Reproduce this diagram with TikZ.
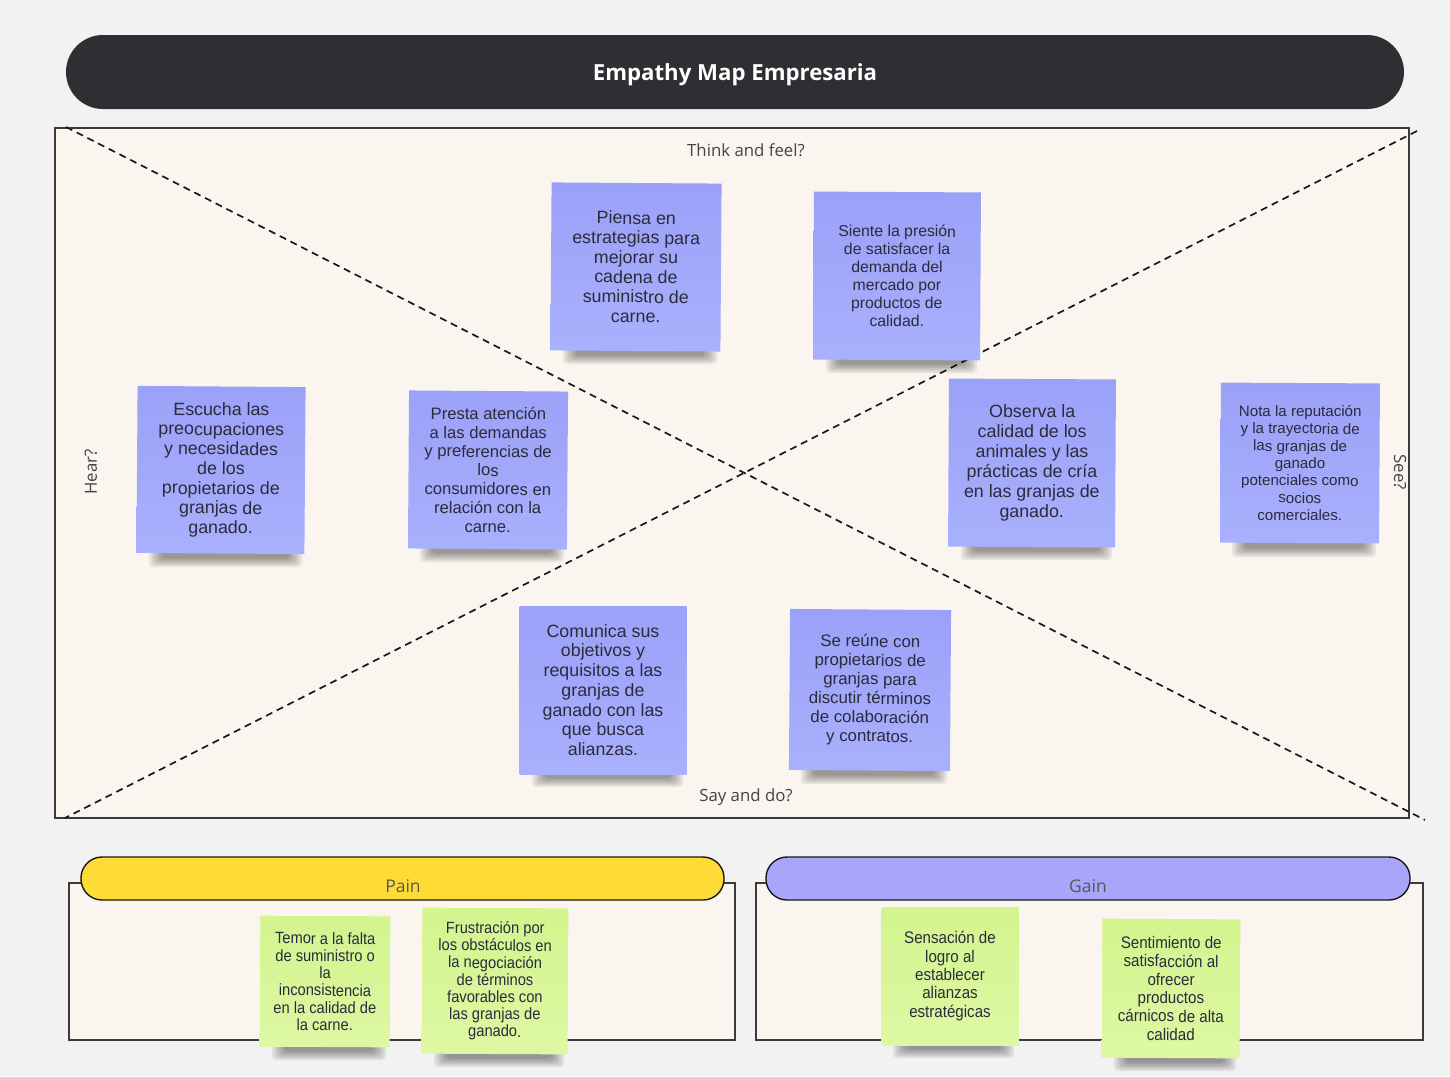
\documentclass[tikz,border=0pt]{standalone}
\usepackage{fontspec}
\setmainfont{Liberation Sans}
\newfontfamily\ars{Liberation Sans}
\newfontfamily\os{Open Sans}
\newfontfamily\narrow{Liberation Sans}[FakeStretch=0.9]
\usetikzlibrary{positioning}
\definecolor{bg}{HTML}{F2F2F2}
\definecolor{cream}{HTML}{FAF6EF}
\definecolor{titlebar}{HTML}{2D2F33}
\definecolor{frame}{HTML}{3A3A3A}
\definecolor{ptop}{HTML}{9AA1F8}
\definecolor{pbot}{HTML}{A9B0FD}
\definecolor{gtop}{HTML}{D3F48E}
\definecolor{gbot}{HTML}{DDF8A3}
\definecolor{notetext}{HTML}{2B2B3B}
\definecolor{labeltext}{HTML}{444444}
\definecolor{painy}{HTML}{FFDC35}
\definecolor{gainv}{HTML}{A9A5FB}
% shadow below a note: left x, right x, bottom y
\newcommand{\noteshadow}[3]{%
  \foreach \k in {0,...,5}{%
    \fill[black,opacity=.075,rounded corners=4pt] ({#1+12+2.5*\k},{#3-4}) rectangle ({#2-4-2.5*\k},{#3+13-1.7*\k});
  }%
}
\tikzset{
  pnote/.style={top color=ptop, bottom color=pbot, align=center, text=notetext, inner sep=4pt},
  gnote/.style={top color=gtop, bottom color=gbot, align=center, text=notetext, inner sep=3pt},
  axislabel/.style={text=labeltext, font=\os\fontsize{16.8}{19}\selectfont},
  diag/.style={draw=black!90, line width=1.7pt, dash pattern=on 7pt off 5pt},
  section/.style={fill=cream, draw=frame, line width=1.4pt},
  pill/.style={draw=black!90, line width=1.4pt, rounded corners=21pt},
}
\begin{document}
\begin{tikzpicture}[x=1pt,y=-1pt]
\useasboundingbox (0,0) rectangle (1450,1076);
\fill[bg] (0,0) rectangle (1450,1076);

% title bar
\fill[titlebar, rounded corners=37pt] (66,35) rectangle (1404,109);
\node[text=white, font=\os\bfseries\fontsize{22.2}{25}\selectfont] (title) at (735,75) {Empathy Map Empresaria};

% main box
\node[section, minimum width=1354, minimum height=690, inner sep=0pt] (main) at (732,473) {};
\coordinate (dTL) at (66,127);
\coordinate (dBR) at (1425,820);
\coordinate (dTR) at (1417,131);
\coordinate (dBL) at (65,818);
\draw[diag] (dTL) -- (dBR);
\draw[diag] (dTR) -- (dBL);

\node[axislabel] (think) at (746,150) {Think and feel?};
\node[axislabel] (say) at (746,797) {Say and do?};
\node[axislabel, rotate=90] (hear) at (91,472) {Hear?};
\node[axislabel, rotate=-90] (see) at (1400,472) {See?};

% shadows of purple notes
\noteshadow{551}{721}{351}
\noteshadow{814}{981}{360}
\noteshadow{137}{306}{554}
\noteshadow{408}{568}{549}
\noteshadow{949}{1116}{547}
\noteshadow{1220}{1380}{544}
\noteshadow{520}{687}{774}
\noteshadow{789}{951}{771}

% purple notes
\node[pnote, minimum width=170, minimum height=168, rotate=-0.4,
  font=\ars\fontsize{17.8}{19.7}\selectfont] (n1) at (636,267)
  {Piensa en\\estrategias para\\mejorar su\\cadena de\\suministro de\\carne.};
\node[pnote, minimum width=167, minimum height=168, rotate=-0.3,
  font=\ars\fontsize{15.8}{18}\selectfont] (n2) at (897,276)
  {Siente la presión\\de satisfacer la\\demanda del\\mercado por\\productos de\\calidad.};
\node[pnote, minimum width=168, minimum height=167, rotate=-0.4,
  font=\ars\fontsize{17.8}{19.7}\selectfont] (n3) at (221,470)
  {Escucha las\\preocupaciones\\y necesidades\\de los\\propietarios de\\granjas de\\ganado.};
\node[pnote, minimum width=159, minimum height=158, rotate=-0.4,
  font=\ars\fontsize{16.6}{18.8}\selectfont] (n4) at (488,470)
  {Presta atención\\a las demandas\\y preferencias de\\los\\consumidores en\\relación con la\\carne.};
\node[pnote, minimum width=167, minimum height=168, rotate=-0.3,
  font=\ars\fontsize{17.8}{20}\selectfont] (n5) at (1032,463)
  {Observa la\\calidad de los\\animales y las\\prácticas de cría\\en las granjas de\\ganado.};
\node[pnote, minimum width=159, minimum height=160, rotate=-0.3,
  font=\ars\fontsize{15.1}{17.3}\selectfont] (n6) at (1300,463)
  {Nota la reputación\\y la trayectoria de\\las granjas de\\ganado\\potenciales como\\socios\\comerciales.};
\node[pnote, minimum width=167, minimum height=168,
  font=\ars\fontsize{17.8}{19.7}\selectfont] (n7) at (603,690)
  {Comunica sus\\objetivos y\\requisitos a las\\granjas de\\ganado con las\\que busca\\alianzas.};
\node[pnote, minimum width=161, minimum height=161, rotate=-0.4,
  font=\ars\fontsize{16.8}{19}\selectfont] (n8) at (870,690)
  {Se reúne con\\propietarios de\\granjas para\\discutir términos\\de colaboración\\y contratos.};

% bottom sections
\node[section, minimum width=666, minimum height=157, inner sep=0pt] (painbox) at (402,961.5) {};
\node[section, minimum width=667, minimum height=157, inner sep=0pt] (gainbox) at (1089.5,961.5) {};
\filldraw[pill, fill=painy] (81,857) rectangle (724,900);
\filldraw[pill, fill=gainv] (766,857) rectangle (1410,900);
\node[text=labeltext!90, font=\os\fontsize{17.5}{20}\selectfont] (pain) at (403,886) {Pain};
\node[text=labeltext!90, font=\os\fontsize{17.5}{20}\selectfont] (gain) at (1088,886) {Gain};

% shadows of green notes
\noteshadow{260}{390}{1047}
\noteshadow{422}{568}{1054}
\noteshadow{881}{1018}{1045}
\noteshadow{1102}{1240}{1058}

% green notes
\node[gnote, minimum width=130, minimum height=131, rotate=-0.3,
  font=\narrow\fontsize{16.3}{17.3}\selectfont] (g1) at (325,981.5)
  {Temor a la falta\\de suministro o\\la\\inconsistencia\\en la calidad de\\la carne.};
\node[gnote, minimum width=146, minimum height=146, rotate=-0.3,
  font=\narrow\fontsize{16.3}{17.2}\selectfont] (g2) at (495,981)
  {Frustración por\\los obstáculos en\\la negociación\\de términos\\favorables con\\las granjas de\\ganado.};
\node[gnote, minimum width=137, minimum height=138,
  font=\narrow\fontsize{16.8}{18.3}\selectfont] (g3) at (950,976)
  {Sensación de\\logro al\\establecer\\alianzas\\estratégicas};
\node[gnote, minimum width=138, minimum height=139, rotate=-0.3,
  font=\narrow\fontsize{16.8}{18.3}\selectfont] (g4) at (1171,988.5)
  {Sentimiento de\\satisfacción al\\ofrecer\\productos\\cárnicos de alta\\calidad};
\end{tikzpicture}
\end{document}
